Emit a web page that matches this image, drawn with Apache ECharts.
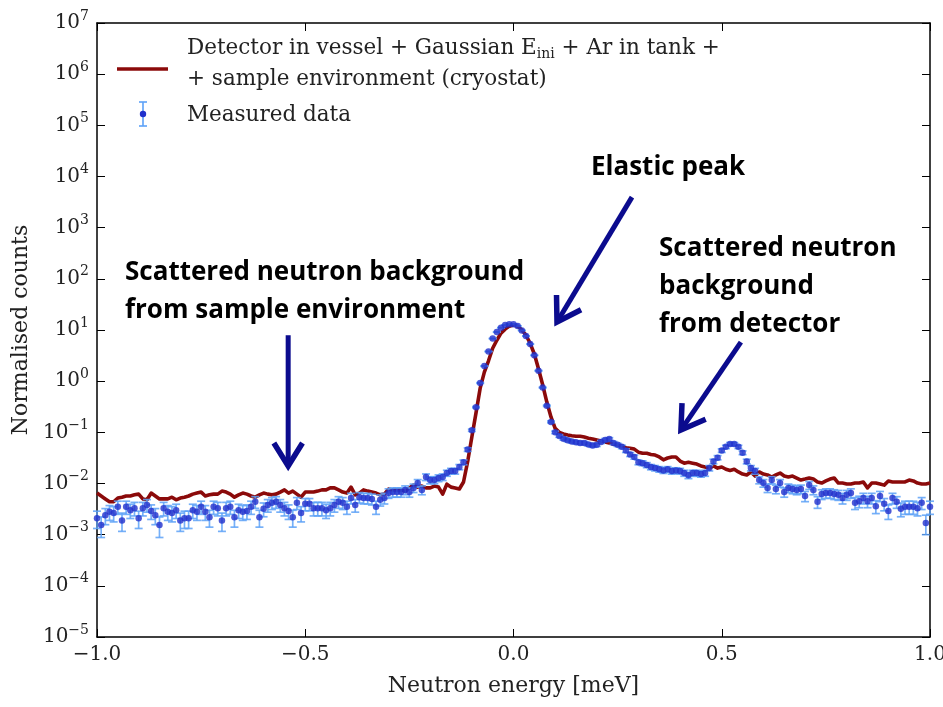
<!DOCTYPE html>
<html><head><meta charset="utf-8">
<script src="https://cdn.jsdelivr.net/npm/echarts@6/dist/echarts.min.js"></script>
<style>html,body{margin:0;padding:0;background:#fff;overflow:hidden}#c{width:943px;height:707px}</style>
</head><body><div id="c"></div>
<script>
// Energy grid (meV): samples every 0.01 meV from -1.00 to 1.00
const E_START = -1.0, E_STEP = 0.01;

const measured = [
  0.0021, 0.00155, 0.0024, 0.0028, 0.00265, 0.0035, 0.0019, 0.0035, 0.0030, 0.0033,
  0.0021, 0.0033, 0.0038, 0.0029, 0.0024, 0.00155, 0.0033, 0.0028, 0.00265, 0.0030,
  0.0019, 0.0021, 0.0021, 0.0030, 0.0028, 0.0035, 0.0028, 0.0022, 0.0035, 0.0033,
  0.0019, 0.0033, 0.0035, 0.0022, 0.0030, 0.0028, 0.0029, 0.0035, 0.0044, 0.0022,
  0.0032, 0.0038, 0.0042, 0.0044, 0.0038, 0.0033, 0.0029, 0.0022, 0.0042, 0.00265,
  0.0040, 0.0040, 0.0033, 0.0033, 0.0033, 0.0030, 0.0033, 0.0038, 0.0044, 0.0042,
  0.0035, 0.0052, 0.0038, 0.0054, 0.0052, 0.0052, 0.0050, 0.0035, 0.0048, 0.0052,
  0.0065, 0.0068, 0.0068, 0.0068, 0.0075, 0.0068, 0.0082, 0.0102, 0.0075, 0.0134,
  0.0117, 0.0117, 0.0128, 0.0134, 0.016, 0.0175, 0.0175, 0.021, 0.026, 0.046,
  0.11, 0.31, 0.92, 1.97, 3.8, 6.8, 9.1, 11.1, 12.5, 13.0,
  13.0, 12.0, 9.8, 7.6, 5.3, 3.2, 1.6, 0.75, 0.33, 0.16,
  0.10, 0.085, 0.075, 0.070, 0.066, 0.064, 0.062, 0.062, 0.058, 0.055,
  0.057, 0.065, 0.071, 0.074, 0.062, 0.057, 0.052, 0.044, 0.037, 0.033,
  0.026, 0.025, 0.023, 0.021, 0.020, 0.019, 0.018, 0.019, 0.0175, 0.018,
  0.0175, 0.016, 0.0145, 0.016, 0.016, 0.0154, 0.016, 0.020, 0.027, 0.032,
  0.044, 0.052, 0.059, 0.059, 0.052, 0.040, 0.027, 0.020, 0.0175, 0.0117,
  0.0102, 0.0082, 0.0117, 0.0078, 0.0102, 0.0068, 0.0082, 0.0078, 0.0075, 0.0078,
  0.0057, 0.0093, 0.0075, 0.0044, 0.0062, 0.0065, 0.0065, 0.0062, 0.0060, 0.0052,
  0.0060, 0.0065, 0.0042, 0.0045, 0.0052, 0.0045, 0.0052, 0.0036, 0.0057, 0.0040,
  0.0029, 0.0052, 0.0044, 0.0032, 0.0035, 0.0035, 0.0035, 0.0033, 0.0042, 0.0017,
  0.0035
];

// Model: Detector in vessel + Gaussian E_ini + Ar in tank + sample environment
const model = [
  0.0065, 0.0057, 0.0050, 0.0044, 0.0044, 0.0052, 0.0054, 0.0057, 0.0057, 0.0060,
  0.0062, 0.0050, 0.0048, 0.0065, 0.0057, 0.0050, 0.0050, 0.0050, 0.0054, 0.0048,
  0.0052, 0.0054, 0.0057, 0.0062, 0.0065, 0.0068, 0.0057, 0.0060, 0.0062, 0.0062,
  0.0071, 0.0068, 0.0062, 0.0054, 0.0060, 0.0065, 0.0062, 0.0057, 0.0054, 0.0060,
  0.0065, 0.0062, 0.0060, 0.0062, 0.0068, 0.0075, 0.0065, 0.0071, 0.0062, 0.0054,
  0.0068, 0.0068, 0.0068, 0.0071, 0.0075, 0.0075, 0.0082, 0.0082, 0.0075, 0.0068,
  0.0065, 0.0085, 0.0060, 0.0065, 0.0075, 0.0071, 0.0068, 0.0065, 0.0060, 0.0062,
  0.0078, 0.0075, 0.0075, 0.0075, 0.0071, 0.0082, 0.0093, 0.0085, 0.0089, 0.0082,
  0.0082, 0.0089, 0.0085, 0.0062, 0.0097, 0.0085, 0.0082, 0.0078, 0.0107, 0.027,
  0.081, 0.24, 0.73, 1.5, 2.5, 4.4, 6.3, 8.7, 10.4, 11.9,
  12.5, 11.9, 10.0, 7.9, 5.5, 3.4, 1.75, 0.85, 0.39, 0.2,
  0.12, 0.10, 0.093, 0.089, 0.086, 0.084, 0.084, 0.081, 0.077, 0.074,
  0.071, 0.068, 0.065, 0.062, 0.059, 0.0565, 0.054, 0.050, 0.049, 0.047,
  0.041, 0.039, 0.039, 0.037, 0.036, 0.033, 0.029, 0.0315, 0.033, 0.033,
  0.0275, 0.025, 0.026, 0.025, 0.024, 0.022, 0.021, 0.020, 0.022, 0.020,
  0.021, 0.019, 0.018, 0.019, 0.0168, 0.0153, 0.0147, 0.0168, 0.0140, 0.0168,
  0.0153, 0.0147, 0.0134, 0.0147, 0.016, 0.0140, 0.0134, 0.0140, 0.0128, 0.0117,
  0.0122, 0.0128, 0.0122, 0.0107, 0.0102, 0.0112, 0.0122, 0.0128, 0.0102, 0.0102,
  0.0098, 0.0098, 0.0102, 0.0102, 0.0107, 0.0082, 0.0102, 0.0102, 0.0098, 0.0093,
  0.0112, 0.0107, 0.0107, 0.0107, 0.0107, 0.0117, 0.0112, 0.0102, 0.0098, 0.0098,
  0.0102
];

// counting-statistics error bar size (sigma = ERR_K * sqrt(value))
const ERR_K = 0.017;

const xTickLabels = ['−1.0', '−0.5', '0.0', '0.5', '1.0'];
const Y_MIN_EXP = -5, Y_MAX_EXP = 7;

const legendTexts = ['Detector in vessel + Gaussian E{sub|ini} + Ar in tank +', '+ sample environment (cryostat)', 'Measured data'];
const annotations = [
  {lines: ['Elastic peak'], px: [591, 168]},
  {lines: ['Scattered neutron background', 'from sample environment'], px: [125, 273]},
  {lines: ['Scattered neutron', 'background', 'from detector'], px: [659, 249]}
];
// arrows: [tail, head] in data coordinates [energy, counts]
const arrows = [
  [[-0.541, 7.9], [-0.541, 0.022]],
  [[0.2845, 3950], [0.1044, 14.3]],
  [[0.546, 5.8], [0.402, 0.111]]
];

const SERIF = "'DejaVu Serif', serif";
const energy = i => +(E_START + E_STEP * i).toFixed(2);
const modelData = model.map((v, i) => [energy(i), v]);
const measData = measured.map((v, i) => [energy(i), v]);
const errData = measured.map((v, i) => {
  const s = ERR_K * Math.sqrt(v);
  return [energy(i), v, Math.max(v - s, v * 0.05), v + s];
});

const chart = echarts.init(document.getElementById('c'), null, {renderer: 'canvas', width: 943, height: 707});
const axisLine = {show: true, onZero: false, lineStyle: {color: '#000', width: 1.5}};
const tick = {show: true, inside: true, length: 8, lineStyle: {color: '#000', width: 1}};
const expStr = n => (n < 0 ? '−' + Math.abs(n) : '' + n);

chart.setOption({
  animation: false,
  backgroundColor: '#fff',
  grid: {left: 97, top: 23, width: 833, height: 614, containLabel: false, outerBoundsMode: 'none'},
  xAxis: [{
    type: 'value', min: -1, max: 1, interval: 0.5, position: 'bottom',
    axisLine, splitLine: {show: false}, axisTick: tick,
    axisLabel: {
      show: true, margin: 8, color: '#222', fontFamily: SERIF, fontSize: 20,
      showMinLabel: true, showMaxLabel: true,
      formatter: v => xTickLabels[Math.round((v + 1) / 0.5)]
    },
    name: 'Neutron energy [meV]', nameLocation: 'middle', nameGap: 38,
    nameTextStyle: {fontFamily: SERIF, fontSize: 22, color: '#222'}
  }, {
    type: 'value', min: -1, max: 1, interval: 0.5, position: 'top',
    axisLine, splitLine: {show: false}, axisLabel: {show: false}, axisTick: tick
  }],
  yAxis: [{
    type: 'log', logBase: 10, min: Math.pow(10, Y_MIN_EXP), max: Math.pow(10, Y_MAX_EXP), interval: 1,
    position: 'left', axisLine, splitLine: {show: false}, minorTick: {show: false}, axisTick: tick,
    axisLabel: {
      show: true, margin: 8, color: '#222', fontFamily: SERIF,
      formatter: v => '{b|10}{e|' + expStr(Math.round(Math.log10(v))) + '}',
      rich: {
        b: {fontFamily: SERIF, fontSize: 20, color: '#222'},
        e: {fontFamily: SERIF, fontSize: 14, color: '#222', padding: [0, 0, 14, 0]}
      }
    },
    name: 'Normalised counts', nameLocation: 'middle', nameGap: 64,
    nameTextStyle: {fontFamily: SERIF, fontSize: 22, color: '#222'}
  }, {
    type: 'log', logBase: 10, min: Math.pow(10, Y_MIN_EXP), max: Math.pow(10, Y_MAX_EXP), interval: 1,
    position: 'right', axisLine, splitLine: {show: false}, axisLabel: {show: false}, axisTick: tick
  }],
  series: [{
    name: 'model', type: 'line', data: modelData, xAxisIndex: 0, yAxisIndex: 0,
    showSymbol: false, symbol: 'none', z: 2,
    lineStyle: {color: '#8b0a0a', width: 3.6, join: 'round'}
  }, {
    name: 'errors', type: 'custom', data: errData, xAxisIndex: 0, yAxisIndex: 0, z: 3,
    encode: {x: 0, y: [1, 2, 3]},
    renderItem: (params, api) => {
      const x = api.value(0), lo = api.value(2), hi = api.value(3);
      const pLo = api.coord([x, lo]), pHi = api.coord([x, hi]);
      const cw = 4;
      const st = {stroke: '#5ea2f7', lineWidth: 1.7, opacity: 0.85};
      return {type: 'group', children: [
        {type: 'line', shape: {x1: pLo[0], y1: pLo[1], x2: pHi[0], y2: pHi[1]}, style: st},
        {type: 'line', shape: {x1: pLo[0] - cw, y1: pLo[1], x2: pLo[0] + cw, y2: pLo[1]}, style: st},
        {type: 'line', shape: {x1: pHi[0] - cw, y1: pHi[1], x2: pHi[0] + cw, y2: pHi[1]}, style: st}
      ]};
    }
  }, {
    name: 'measured', type: 'scatter', data: measData, xAxisIndex: 0, yAxisIndex: 0, z: 4,
    symbol: 'circle', symbolSize: 6.5, itemStyle: {color: '#2030cc'}
  }]
});

// Annotations / legend
const g = [];
const ARROW = '#0b0b8e';
arrows.forEach(([t, h]) => {
  const p0 = chart.convertToPixel({gridIndex: 0}, t);
  const p1 = chart.convertToPixel({gridIndex: 0}, h);
  const dx = p1[0] - p0[0], dy = p1[1] - p0[1];
  const L = Math.hypot(dx, dy), ux = dx / L, uy = dy / L;
  const a = 32 * Math.PI / 180, hl = 27;
  const rot = (ang) => [-(ux * Math.cos(ang) - uy * Math.sin(ang)), -(ux * Math.sin(ang) + uy * Math.cos(ang))];
  const r1 = rot(a), r2 = rot(-a);
  g.push({type: 'line', shape: {x1: p0[0], y1: p0[1], x2: p1[0] - ux * 3, y2: p1[1] - uy * 3},
    style: {stroke: ARROW, lineWidth: 5}, z: 10});
  g.push({type: 'polyline', shape: {points: [[p1[0] + r1[0] * hl, p1[1] + r1[1] * hl], p1, [p1[0] + r2[0] * hl, p1[1] + r2[1] * hl]]},
    style: {stroke: ARROW, lineWidth: 5.5, fill: null, lineJoin: 'miter'}, z: 10});
});
annotations.forEach(a => {
  a.lines.forEach((ln, k) => {
    g.push({type: 'text', x: a.px[0], y: a.px[1] + k * 38, z: 11,
      style: {text: ln, fontFamily: "'Open Sans', Lato, sans-serif", fontWeight: 'bold', fontSize: 26,
        fill: '#000', verticalAlign: 'middle', align: 'left'}});
  });
});
// legend
g.push({type: 'line', shape: {x1: 117, y1: 69, x2: 168, y2: 69}, style: {stroke: '#8b0a0a', lineWidth: 3.6}, z: 12});
const eb = {stroke: '#5ea2f7', lineWidth: 1.8, opacity: 0.9};
g.push({type: 'line', shape: {x1: 143, y1: 102, x2: 143, y2: 126}, style: eb, z: 12});
g.push({type: 'line', shape: {x1: 139, y1: 102, x2: 147, y2: 102}, style: eb, z: 12});
g.push({type: 'line', shape: {x1: 139, y1: 126, x2: 147, y2: 126}, style: eb, z: 12});
g.push({type: 'circle', shape: {cx: 143, cy: 114, r: 3.2}, style: {fill: '#2030cc'}, z: 13});
const legY = [48, 79, 115];
legendTexts.forEach((t, k) => {
  g.push({type: 'text', x: 187, y: legY[k], z: 12,
    style: {text: t, fontFamily: SERIF, fontSize: 21.5, fill: '#222', verticalAlign: 'middle', align: 'left',
      rich: {sub: {fontFamily: SERIF, fontSize: 14, fill: '#222', padding: [12, 0, 0, 0]}}}});
});
chart.setOption({graphic: g});
</script>
</body></html>
